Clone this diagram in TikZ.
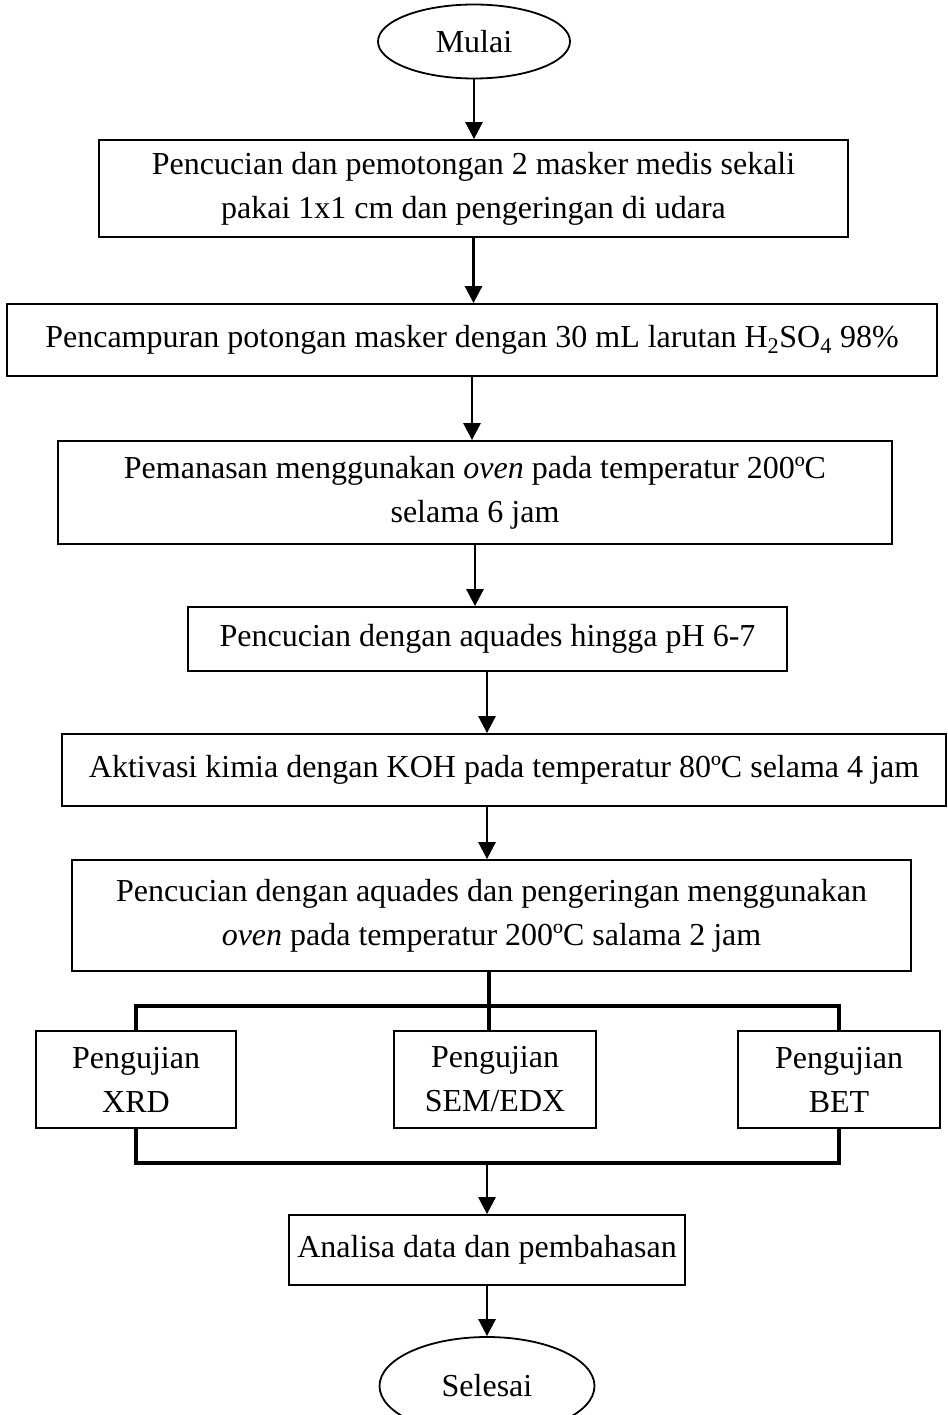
\documentclass[tikz,border=0pt]{standalone}
\usepackage{fontspec}
\setmainfont{Liberation Serif}
\usetikzlibrary{arrows.meta,shapes.geometric}

\begin{document}
\begin{tikzpicture}[x=1pt, y=-1pt,
  proc/.style={rectangle, draw=black, line width=1.8pt, inner sep=0pt, align=center,
    font=\fontsize{32}{44}\selectfont},
  term/.style={ellipse, draw=black, line width=1.8pt, inner sep=0pt,
    font=\fontsize{32}{44}\selectfont},
  arr/.style={line width=2.8pt, -{Triangle[width=17pt,length=17pt]}},
  bus/.style={line width=4pt},
  ]
 \useasboundingbox (0,0) rectangle (947,1415);
 \node [term, minimum width=192pt, minimum height=74pt] (mulai) at (474,41.5) {Mulai};
 \node [proc, minimum width=749pt, minimum height=97pt] (b1) at (473.5,188.5) {
    Pencucian dan pemotongan 2 masker medis sekali\\
    pakai 1x1 cm dan pengeringan di udara};
 \node [proc, minimum width=930pt, minimum height=72pt] (b2) at (472,340) {
    Pencampuran potongan masker dengan 30 mL larutan H\textsubscript{2}SO\textsubscript{4} 98\%};
 \node [proc, minimum width=834pt, minimum height=103pt] (b3) at (475,492.5) {
    Pemanasan menggunakan \textit{oven} pada temperatur 200ºC\\
    selama 6 jam};
 \node [proc, minimum width=599pt, minimum height=64pt] (b4) at (487.5,639) {
    Pencucian dengan aquades hingga pH 6-7};
 \node [proc, minimum width=884pt, minimum height=72pt] (b5) at (504,770) {
    Aktivasi kimia dengan KOH pada temperatur 80ºC selama 4 jam};
 \node [proc, minimum width=839pt, minimum height=111pt] (b6) at (491.5,915.5) {
    Pencucian dengan aquades dan pengeringan menggunakan\\
    \textit{oven} pada temperatur 200ºC salama 2 jam};
 % pengujian
 \node [proc, minimum width=200pt, minimum height=97pt] (xrd) at (136,1079.5) {Pengujian\\XRD};
 \node [proc, minimum width=202pt, minimum height=97pt] (sem) at (495,1079.5) {Pengujian\\SEM/EDX};
 \node [proc, minimum width=202pt, minimum height=97pt] (bet) at (839,1079.5) {Pengujian\\BET};
 \node [proc, minimum width=396pt, minimum height=70pt] (analisa) at (487,1250) {
    Analisa data dan pembahasan};
 \node [term, minimum width=215pt, minimum height=98pt] (selesai) at (487,1386) {Selesai};
 \coordinate (split) at (489,1006);
 \coordinate (join) at (487,1163);

 \draw [arr] (mulai.south) -- (mulai.south |- b1.north);
 \draw [arr] (b1.south) -- (b1.south |- b2.north);
 \draw [arr] (b2.south) -- (b2.south |- b3.north);
 \draw [arr] (b3.south) -- (b3.south |- b4.north);
 \draw [arr] (b4.south -| join) -- (join |- b5.north);
 \draw [arr] (b5.south -| join) -- (join |- b6.north);
 \draw [bus] (b6.south -| split) -- (sem.north -| split);
 \draw [bus] (xrd.north) |- (split) -| (bet.north);
 \draw [bus] (xrd.south) |- (join) -| (bet.south);
 \draw [arr] (join) -- (analisa.north);
 \draw [arr] (analisa.south) -- (selesai.north);
  \end{tikzpicture}
\end{document}
